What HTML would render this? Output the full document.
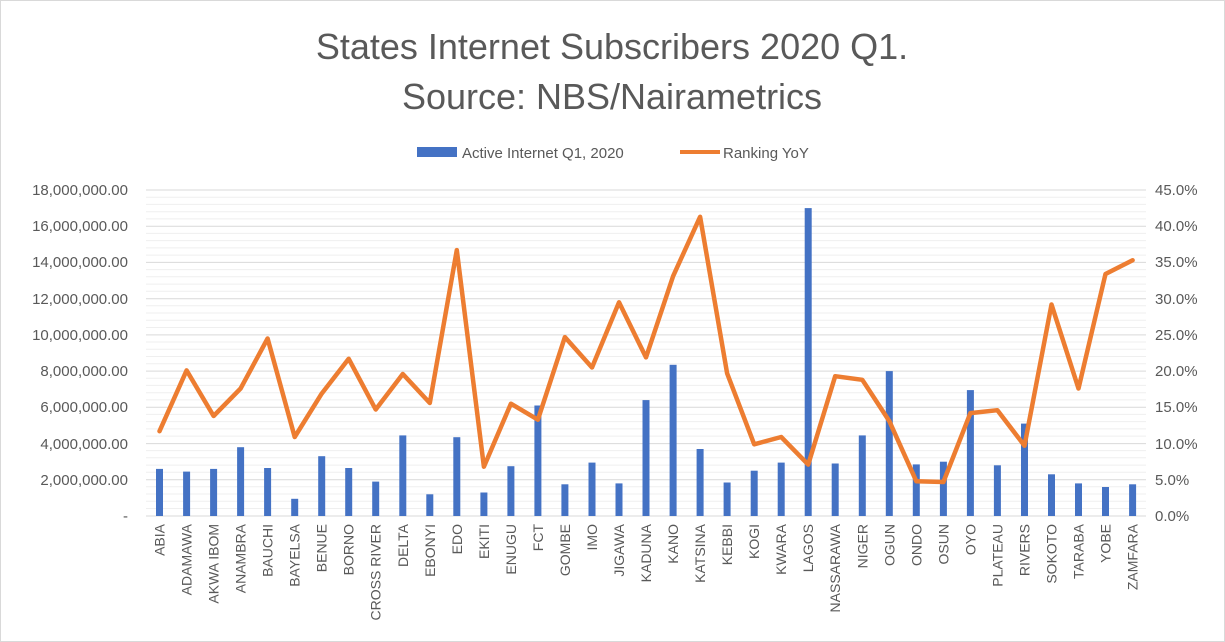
<!DOCTYPE html>
<html><head><meta charset="utf-8"><style>
html,body{margin:0;padding:0;background:#fff;}
svg{display:block;font-family:"Liberation Sans",sans-serif;}
</style></head><body>
<svg width="1225" height="642" viewBox="0 0 1225 642" xmlns="http://www.w3.org/2000/svg">
<rect x="0.5" y="0.5" width="1224" height="641" fill="#fff" stroke="#d9d9d9"/>
<text x="612" y="59" text-anchor="middle" font-size="36" fill="#595959">States Internet Subscribers 2020 Q1.</text>
<text x="612" y="109" text-anchor="middle" font-size="36" fill="#595959">Source: NBS/Nairametrics</text>
<rect x="417" y="147" width="40" height="10" fill="#4472C4"/>
<text x="462" y="158" font-size="15" fill="#595959">Active Internet Q1, 2020</text>
<line x1="680" y1="152" x2="720" y2="152" stroke="#ED7D31" stroke-width="4"/>
<text x="723" y="158" font-size="15" fill="#595959">Ranking YoY</text>
<g stroke="#efefef" stroke-width="1">
<path d="M146 197.2H1146M146 204.4H1146M146 211.7H1146M146 218.9H1146M146 233.4H1146M146 240.6H1146M146 247.9H1146M146 255.1H1146M146 269.6H1146M146 276.8H1146M146 284.1H1146M146 291.3H1146M146 305.8H1146M146 313H1146M146 320.3H1146M146 327.5H1146M146 342H1146M146 349.2H1146M146 356.5H1146M146 363.7H1146M146 378.2H1146M146 385.4H1146M146 392.7H1146M146 399.9H1146M146 414.4H1146M146 421.6H1146M146 428.9H1146M146 436.1H1146M146 450.6H1146M146 457.8H1146M146 465.1H1146M146 472.3H1146M146 486.8H1146M146 494H1146M146 501.3H1146M146 508.5H1146"/>
</g>
<g stroke="#d9d9d9" stroke-width="1">
<path d="M146 190H1146M146 226.2H1146M146 262.4H1146M146 298.7H1146M146 334.9H1146M146 371.1H1146M146 407.3H1146M146 443.6H1146M146 479.8H1146M146 516H1146"/>
</g>
<g font-size="15" fill="#595959" text-anchor="end">
<text x="128" y="195">18,000,000.00</text>
<text x="128" y="231">16,000,000.00</text>
<text x="128" y="267">14,000,000.00</text>
<text x="128" y="304">12,000,000.00</text>
<text x="128" y="340">10,000,000.00</text>
<text x="128" y="376">8,000,000.00</text>
<text x="128" y="412">6,000,000.00</text>
<text x="128" y="449">4,000,000.00</text>
<text x="128" y="485">2,000,000.00</text>
<text x="128" y="521">-</text>
</g>
<g font-size="15" fill="#595959" text-anchor="start">
<text x="1155" y="195">45.0%</text>
<text x="1155" y="231">40.0%</text>
<text x="1155" y="267">35.0%</text>
<text x="1155" y="304">30.0%</text>
<text x="1155" y="340">25.0%</text>
<text x="1155" y="376">20.0%</text>
<text x="1155" y="412">15.0%</text>
<text x="1155" y="449">10.0%</text>
<text x="1155" y="485">5.0%</text>
<text x="1155" y="521">0.0%</text>
</g>
<g fill="#4472C4">
<rect x="156" y="468.9" width="7" height="47.1"/>
<rect x="183.1" y="471.6" width="7" height="44.4"/>
<rect x="210.1" y="468.9" width="7" height="47.1"/>
<rect x="237.1" y="447.2" width="7" height="68.8"/>
<rect x="264.1" y="468" width="7" height="48"/>
<rect x="291.2" y="498.8" width="7" height="17.2"/>
<rect x="318.2" y="456.2" width="7" height="59.8"/>
<rect x="345.2" y="468" width="7" height="48"/>
<rect x="372.2" y="481.6" width="7" height="34.4"/>
<rect x="399.3" y="435.4" width="7" height="80.6"/>
<rect x="426.3" y="494.3" width="7" height="21.7"/>
<rect x="453.3" y="437.2" width="7" height="78.8"/>
<rect x="480.4" y="492.5" width="7" height="23.5"/>
<rect x="507.4" y="466.2" width="7" height="49.8"/>
<rect x="534.4" y="405.5" width="7" height="110.5"/>
<rect x="561.4" y="484.3" width="7" height="31.7"/>
<rect x="588.5" y="462.6" width="7" height="53.4"/>
<rect x="615.5" y="483.4" width="7" height="32.6"/>
<rect x="642.5" y="400.1" width="7" height="115.9"/>
<rect x="669.6" y="364.8" width="7" height="151.2"/>
<rect x="696.6" y="449" width="7" height="67"/>
<rect x="723.6" y="482.5" width="7" height="33.5"/>
<rect x="750.7" y="470.7" width="7" height="45.3"/>
<rect x="777.7" y="462.6" width="7" height="53.4"/>
<rect x="804.7" y="208.1" width="7" height="307.9"/>
<rect x="831.7" y="463.5" width="7" height="52.5"/>
<rect x="858.8" y="435.4" width="7" height="80.6"/>
<rect x="885.8" y="371.1" width="7" height="144.9"/>
<rect x="912.8" y="464.4" width="7" height="51.6"/>
<rect x="939.9" y="461.7" width="7" height="54.3"/>
<rect x="966.9" y="390.1" width="7" height="125.9"/>
<rect x="993.9" y="465.3" width="7" height="50.7"/>
<rect x="1021" y="423.6" width="7" height="92.4"/>
<rect x="1048" y="474.3" width="7" height="41.7"/>
<rect x="1075" y="483.4" width="7" height="32.6"/>
<rect x="1102" y="487" width="7" height="29"/>
<rect x="1129.1" y="484.3" width="7" height="31.7"/>
</g>
<polyline fill="none" stroke="#ED7D31" stroke-width="4.5" stroke-linejoin="round" stroke-linecap="round" points="159.5,431.2 186.6,370.4 213.6,416 240.6,388.5 267.6,338.5 294.7,437 321.7,393.6 348.7,358.8 375.7,409.5 402.8,374 429.8,403 456.8,250.1 483.9,466.7 510.9,403.7 537.9,419.7 564.9,337.1 592,367.5 619,302.3 646,357.4 673.1,276.2 700.1,216.8 727.1,373.3 754.2,444.3 781.2,437 808.2,464.6 835.2,376.2 862.3,379.8 889.3,421.1 916.3,481.2 943.4,482 970.4,413.1 997.4,410.2 1024.5,445.7 1051.5,304.5 1078.5,388.5 1105.5,274 1132.6,260.3"/>
<g font-size="14" fill="#595959" text-anchor="end">
<text transform="translate(164.5,524) rotate(-90)">ABIA</text>
<text transform="translate(191.6,524) rotate(-90)">ADAMAWA</text>
<text transform="translate(218.6,524) rotate(-90)">AKWA IBOM</text>
<text transform="translate(245.6,524) rotate(-90)">ANAMBRA</text>
<text transform="translate(272.6,524) rotate(-90)">BAUCHI</text>
<text transform="translate(299.7,524) rotate(-90)">BAYELSA</text>
<text transform="translate(326.7,524) rotate(-90)">BENUE</text>
<text transform="translate(353.7,524) rotate(-90)">BORNO</text>
<text transform="translate(380.7,524) rotate(-90)">CROSS RIVER</text>
<text transform="translate(407.8,524) rotate(-90)">DELTA</text>
<text transform="translate(434.8,524) rotate(-90)">EBONYI</text>
<text transform="translate(461.8,524) rotate(-90)">EDO</text>
<text transform="translate(488.9,524) rotate(-90)">EKITI</text>
<text transform="translate(515.9,524) rotate(-90)">ENUGU</text>
<text transform="translate(542.9,524) rotate(-90)">FCT</text>
<text transform="translate(569.9,524) rotate(-90)">GOMBE</text>
<text transform="translate(597,524) rotate(-90)">IMO</text>
<text transform="translate(624,524) rotate(-90)">JIGAWA</text>
<text transform="translate(651,524) rotate(-90)">KADUNA</text>
<text transform="translate(678.1,524) rotate(-90)">KANO</text>
<text transform="translate(705.1,524) rotate(-90)">KATSINA</text>
<text transform="translate(732.1,524) rotate(-90)">KEBBI</text>
<text transform="translate(759.2,524) rotate(-90)">KOGI</text>
<text transform="translate(786.2,524) rotate(-90)">KWARA</text>
<text transform="translate(813.2,524) rotate(-90)">LAGOS</text>
<text transform="translate(840.2,524) rotate(-90)">NASSARAWA</text>
<text transform="translate(867.3,524) rotate(-90)">NIGER</text>
<text transform="translate(894.3,524) rotate(-90)">OGUN</text>
<text transform="translate(921.3,524) rotate(-90)">ONDO</text>
<text transform="translate(948.4,524) rotate(-90)">OSUN</text>
<text transform="translate(975.4,524) rotate(-90)">OYO</text>
<text transform="translate(1002.4,524) rotate(-90)">PLATEAU</text>
<text transform="translate(1029.5,524) rotate(-90)">RIVERS</text>
<text transform="translate(1056.5,524) rotate(-90)">SOKOTO</text>
<text transform="translate(1083.5,524) rotate(-90)">TARABA</text>
<text transform="translate(1110.5,524) rotate(-90)">YOBE</text>
<text transform="translate(1137.6,524) rotate(-90)">ZAMFARA</text>
</g>
</svg>
</body></html>
